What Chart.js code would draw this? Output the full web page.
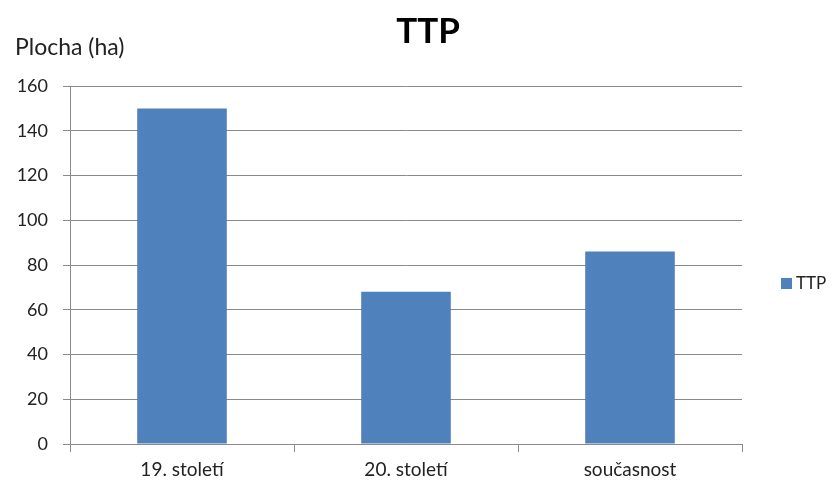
<!DOCTYPE html>
<html>
<head>
<meta charset="utf-8">
<script src="https://cdn.jsdelivr.net/npm/chart.js@4"></script>
<style>
  html, body { margin: 0; padding: 0; background: #ffffff; }
  #wrap { width: 834px; height: 485px; }
</style>
</head>
<body>
<div id="wrap"><canvas id="mycanvas" width="834" height="485"></canvas></div>
<script>
const categories = ["19. století", "20. století", "současnost"];
const ttpValues = [150, 68, 86];
const yTicks = [0, 20, 40, 60, 80, 100, 120, 140, 160];
const chartTitle = "TTP";
const yAxisTitle = "Plocha (ha)";
const seriesName = "TTP";

const FONT = "Lato, 'Open Sans', sans-serif";
const BAR = "#4f81bd";
const GRID = "#8a8a8a";

// title, axis title and legend drawn by hand so they sit like the Excel original
const textPlugin = {
  id: "textPlugin",
  afterDraw(chart) {
    const ctx = chart.ctx;
    ctx.save();
    ctx.fillStyle = "#000";
    ctx.textBaseline = "alphabetic";

    ctx.font = "bold 35px " + FONT;
    ctx.textAlign = "center";
    ctx.fillText(chartTitle, 428, 43);

    ctx.font = "23px " + FONT;
    ctx.textAlign = "left";
    ctx.fillStyle = "#222";
    ctx.fillText(yAxisTitle, 15, 55);

    // legend
    const ds = chart.data.datasets[0];
    ctx.fillStyle = ds.backgroundColor;
    ctx.fillRect(781, 278, 11, 11);
    ctx.fillStyle = "#222";
    ctx.font = "17px " + FONT;
    ctx.textBaseline = "middle";
    ctx.fillText(ds.label, 796, 284);
    ctx.restore();
  }
};

const ctx = document.getElementById("mycanvas");
const myChart = new Chart(ctx, {
  type: "bar",
  data: {
    labels: categories,
    datasets: [
      {
        label: seriesName,
        data: ttpValues,
        backgroundColor: BAR,
        borderWidth: 0,
        barPercentage: 0.4,
        categoryPercentage: 1.0,
      },
    ],
  },
  options: {
    responsive: false,
    animation: false,
    layout: {
      padding: { top: 86, right: 92, left: 0, bottom: 0 },
    },
    plugins: {
      legend: { display: false },
      title: { display: false },
      tooltip: { enabled: false },
    },
    scales: {
      x: {
        offset: true,
        grid: {
          offset: true,
          drawOnChartArea: false,
          drawTicks: true,
          tickLength: 8,
          color: GRID,
        },
        border: { color: GRID, width: 1 },
        ticks: {
          color: "#222",
          padding: 6,
          font: { family: FONT, size: 19 },
        },
        afterFit(scale) {
          scale.height = 41;
        },
      },
      y: {
        min: 0,
        max: 160,
        afterBuildTicks(scale) {
          scale.ticks = yTicks.map((v) => ({ value: v }));
        },
        grid: {
          color: GRID,
          tickLength: 7,
        },
        border: { color: GRID, width: 1 },
        ticks: {
          color: "#222",
          padding: 15,
          font: { family: FONT, size: 18 },
        },
        afterFit(scale) {
          scale.width = 70;
        },
      },
    },
  },
  plugins: [textPlugin],
});
</script>
</body>
</html>
